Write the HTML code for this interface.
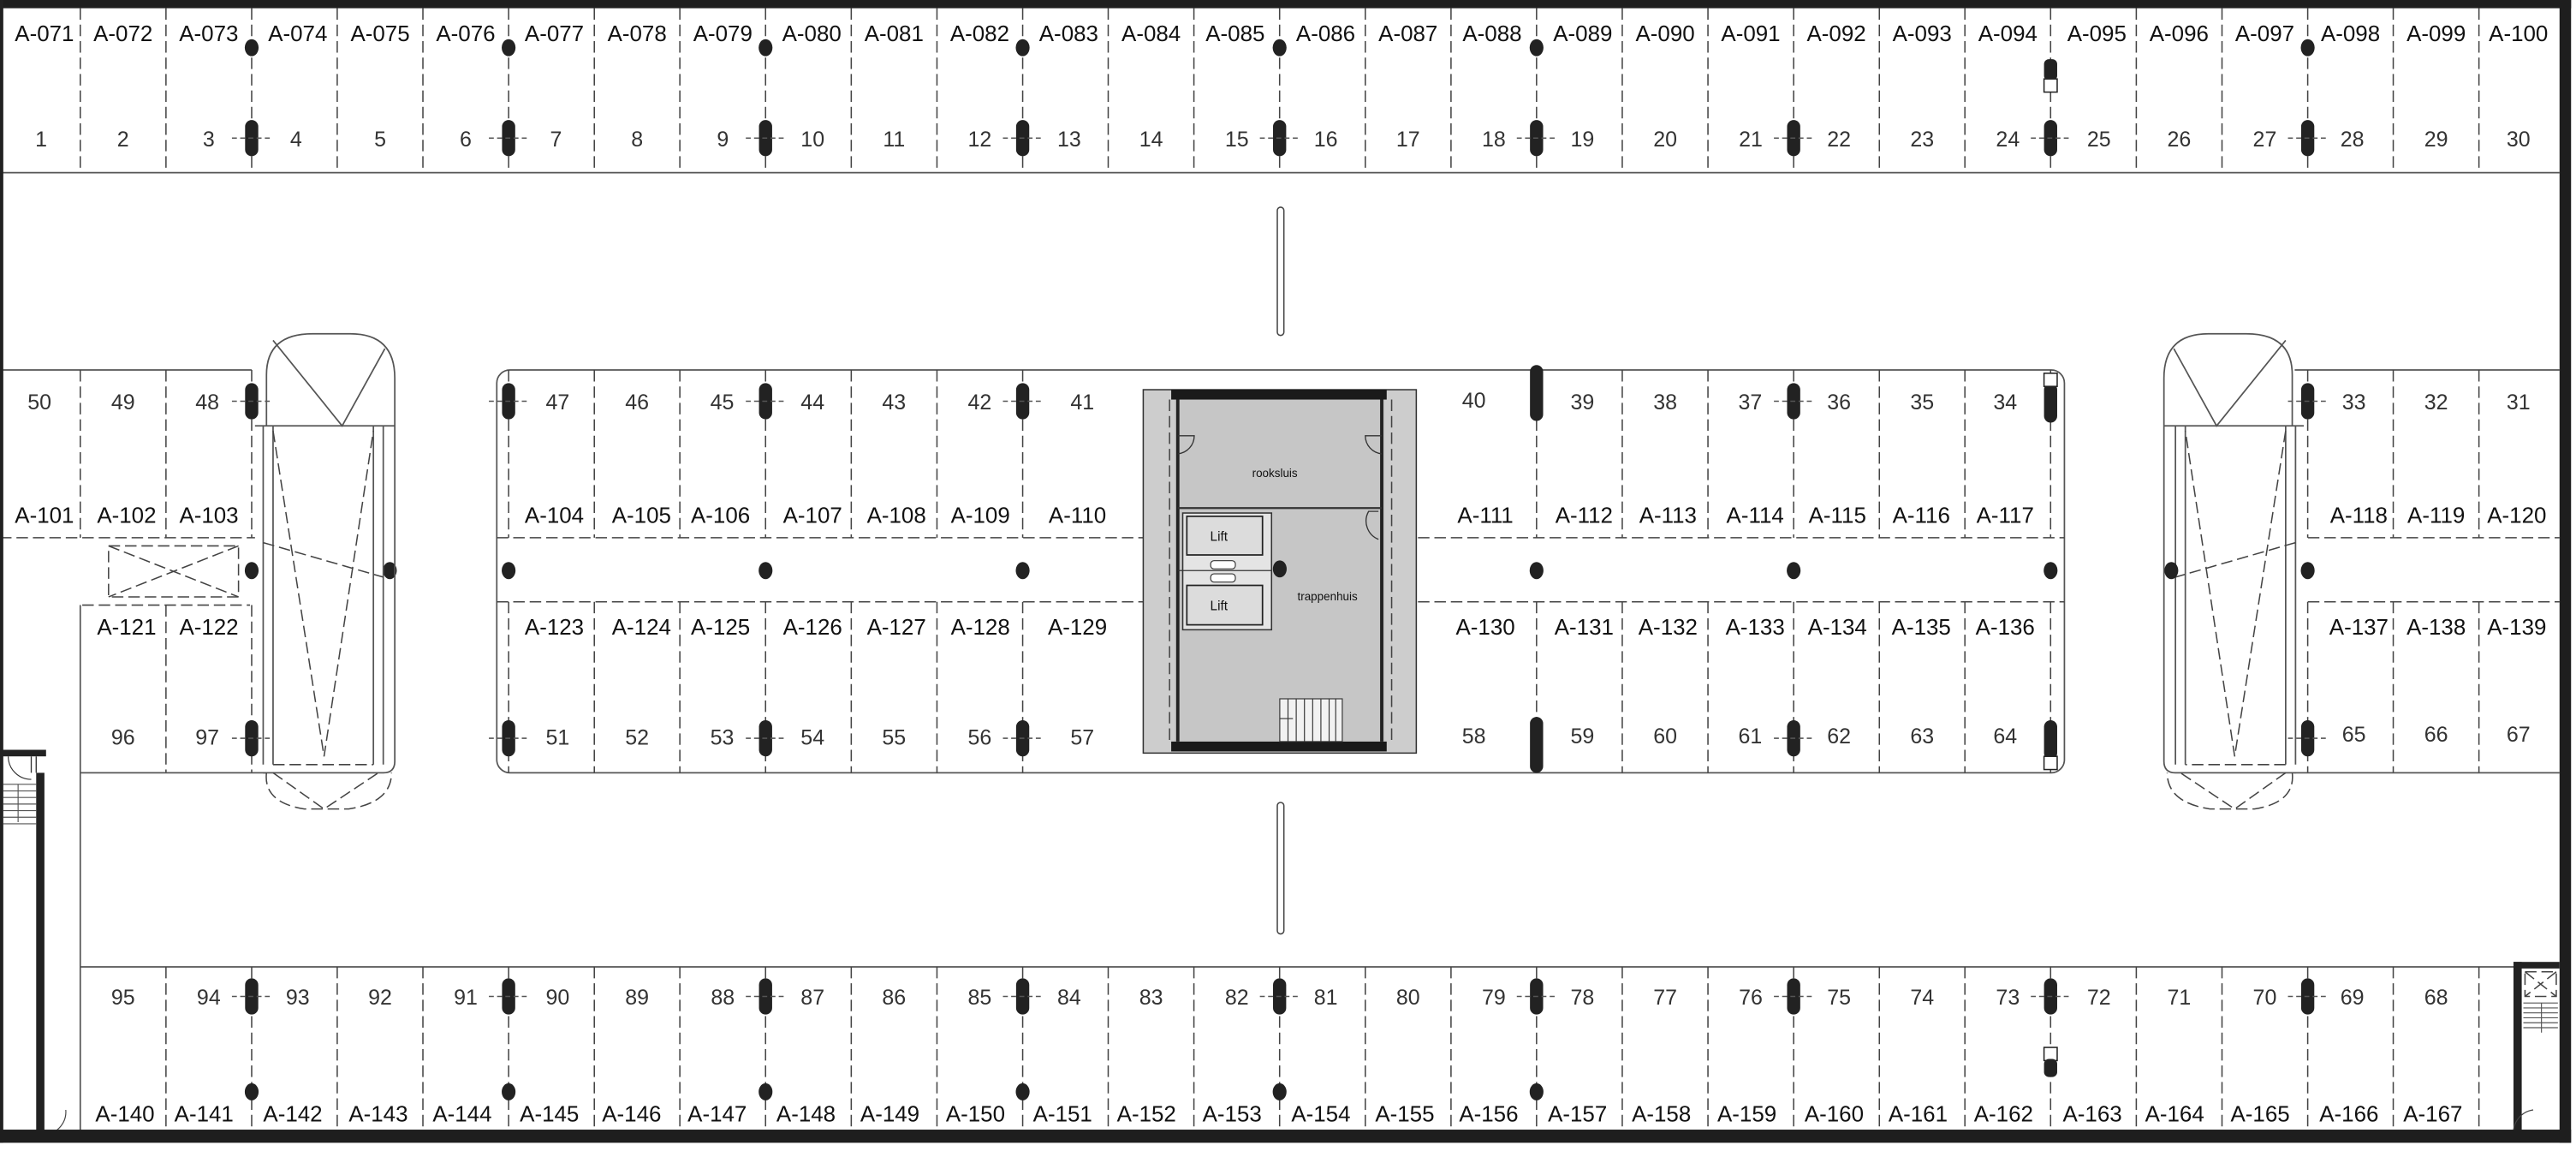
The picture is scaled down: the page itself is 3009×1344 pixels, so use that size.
<!DOCTYPE html>
<html><head><meta charset="utf-8"><style>
html,body{margin:0;padding:0;background:#fff}
svg{display:block}
.a{font-family:"Liberation Sans",sans-serif;font-size:13.5px;fill:#111;text-anchor:middle}
.n{font-family:"Liberation Sans",sans-serif;font-size:13px;fill:#333;text-anchor:middle}
.s{font-family:"Liberation Sans",sans-serif;font-size:7px;fill:#111;text-anchor:middle}
.dl{stroke:#444;stroke-width:0.8;stroke-dasharray:7 3;fill:none}
.ln{stroke:#555;stroke-width:0.9;fill:none}
</style></head><body>
<svg width="3009" height="1344" viewBox="0 0 1566 700" preserveAspectRatio="none" xmlns="http://www.w3.org/2000/svg">
<defs>
<g id="p"><rect x="-4" y="-11" width="8" height="22" rx="4" fill="#222"/><line x1="-12" y1="0" x2="12" y2="0" stroke="#555" stroke-width="0.8" stroke-dasharray="3 2"/></g>
<g id="d"><ellipse cx="0" cy="0" rx="4.2" ry="5.2" fill="#222"/></g>
</defs>
<rect x="0" y="0" width="1566" height="700" fill="#fff"/>

<!-- TOP ROW -->
<line x1="0" y1="105" x2="1556" y2="105" class="ln"/>
<g class="dl">
<path d="M48.8 5V105M100.9 5V105M153 5V105M205 5V105M257.1 5V105M309.2 5V105M361.3 5V105M413.3 5V105M465.4 5V105M517.5 5V105M569.6 5V105M621.7 5V105M673.7 5V105M725.8 5V105M777.9 5V105M830 5V105M882.1 5V105M934.1 5V105M986.2 5V105M1038.3 5V105M1090.4 5V105M1142.5 5V105M1194.5 5V105M1246.6 5V105M1298.7 5V105M1350.8 5V105M1402.9 5V105M1454.9 5V105M1507 5V105"/>
</g>
<g>
<use href="#d" x="153" y="29"/><use href="#d" x="309.2" y="29"/><use href="#d" x="465.4" y="29"/><use href="#d" x="621.7" y="29"/><use href="#d" x="777.9" y="29"/><use href="#d" x="934.1" y="29"/><use href="#d" x="1402.9" y="29"/>
<rect x="1242.6" y="36" width="8" height="13" rx="3" fill="#222"/><rect x="1242.6" y="48" width="8" height="8" fill="#fff" stroke="#222" stroke-width="0.8"/>
<use href="#p" x="153" y="84"/><use href="#p" x="309.2" y="84"/><use href="#p" x="465.4" y="84"/><use href="#p" x="621.7" y="84"/><use href="#p" x="777.9" y="84"/><use href="#p" x="934.1" y="84"/><use href="#p" x="1090.4" y="84"/><use href="#p" x="1246.6" y="84"/><use href="#p" x="1402.9" y="84"/>
</g>
<g class="a">
<text x="27" y="25">A-071</text><text x="74.8" y="25">A-072</text><text x="126.9" y="25">A-073</text><text x="181" y="25">A-074</text><text x="231.1" y="25">A-075</text><text x="283.1" y="25">A-076</text><text x="337" y="25">A-077</text><text x="387.3" y="25">A-078</text><text x="439.4" y="25">A-079</text><text x="493.5" y="25">A-080</text><text x="543.5" y="25">A-081</text><text x="595.6" y="25">A-082</text><text x="649.7" y="25">A-083</text><text x="699.8" y="25">A-084</text><text x="750.9" y="25">A-085</text><text x="805.9" y="25">A-086</text><text x="856" y="25">A-087</text><text x="907.1" y="25">A-088</text><text x="962.2" y="25">A-089</text><text x="1012.3" y="25">A-090</text><text x="1064.3" y="25">A-091</text><text x="1116.4" y="25">A-092</text><text x="1168.5" y="25">A-093</text><text x="1220.6" y="25">A-094</text><text x="1274.7" y="25">A-095</text><text x="1324.7" y="25">A-096</text><text x="1376.8" y="25">A-097</text><text x="1428.9" y="25">A-098</text><text x="1481" y="25">A-099</text><text x="1531" y="25">A-100</text>
</g>
<g class="n">
<text x="25" y="89">1</text><text x="74.8" y="89">2</text><text x="126.9" y="89">3</text><text x="180" y="89">4</text><text x="231.1" y="89">5</text><text x="283.1" y="89">6</text><text x="338" y="89">7</text><text x="387.3" y="89">8</text><text x="439.4" y="89">9</text><text x="494" y="89">10</text><text x="543.5" y="89">11</text><text x="595.6" y="89">12</text><text x="650" y="89">13</text><text x="699.8" y="89">14</text><text x="751.9" y="89">15</text><text x="806" y="89">16</text><text x="856" y="89">17</text><text x="908.1" y="89">18</text><text x="962" y="89">19</text><text x="1012.3" y="89">20</text><text x="1064.3" y="89">21</text><text x="1118" y="89">22</text><text x="1168.5" y="89">23</text><text x="1220.6" y="89">24</text><text x="1276" y="89">25</text><text x="1324.7" y="89">26</text><text x="1376.8" y="89">27</text><text x="1430" y="89">28</text><text x="1481" y="89">29</text><text x="1531" y="89">30</text>
</g>

<!-- CENTER BARS -->
<rect x="776.5" y="126" width="4" height="78" rx="2" fill="#fff" stroke="#444" stroke-width="0.8"/>
<rect x="776.5" y="488" width="4" height="80" rx="2" fill="#fff" stroke="#444" stroke-width="0.8"/>

<!-- LEFT BLOCK -->
<line x1="0" y1="225" x2="153" y2="225" class="ln"/>
<path class="dl" d="M48.8 225V327M100.9 225V327M153 225V327M0 327H155M100.9 368V470M153 368V470M50 368H152"/>
<rect x="66" y="332" width="79" height="31" class="dl"/>
<path class="dl" d="M66 332L145 363M145 332L66 363"/>
<line x1="48.8" y1="368" x2="48.8" y2="690" class="ln"/>
<line x1="48.8" y1="470" x2="162" y2="470" class="ln"/>
<use href="#p" x="153" y="244"/><use href="#d" x="153" y="347"/><use href="#p" x="153" y="449"/><use href="#d" x="237" y="347"/>
<g class="n"><text x="24" y="249">50</text><text x="74.8" y="249">49</text><text x="126" y="249">48</text><text x="74.8" y="453">96</text><text x="126" y="453">97</text></g>
<g class="a"><text x="27" y="318">A-101</text><text x="77" y="318">A-102</text><text x="127" y="318">A-103</text><text x="77" y="386">A-121</text><text x="127" y="386">A-122</text></g>

<!-- RAMP -->
<g id="ramp">
<path class="ln" d="M162 259V228Q162 203 190 203H213Q240 203 240 230V463Q240 470 233 470H160"/>
<line x1="155" y1="259" x2="240" y2="259" class="ln"/>
<path class="ln" d="M166 207L208 259L234 212"/>
<path class="ln" d="M160 259V465M166 259V465M227 259V465M233 259V465"/>
<path class="dl" d="M166 262L197 460L227 262M166 465H227M160 330L233 351"/>
<path class="dl" d="M162 470Q160 488 185 492H212Q238 488 238 470M166 470L197 492L230 470"/>
</g>
<use href="#ramp" transform="translate(1555.5,0) scale(-1,1)"/>

<!-- RIGHT BLOCK -->
<line x1="1395" y1="225" x2="1556" y2="225" class="ln"/>
<path class="dl" d="M1402.9 225V327M1454.9 225V327M1507 225V327M1403 327H1556M1403 366H1556M1402.9 366V470M1454.9 366V470M1507 366V470"/>
<line x1="1395" y1="470" x2="1556" y2="470" class="ln"/>
<use href="#p" x="1402.9" y="244"/><use href="#d" x="1402.9" y="347"/><use href="#p" x="1402.9" y="449"/><use href="#d" x="1320" y="347"/>
<g class="n"><text x="1431" y="249">33</text><text x="1481" y="249">32</text><text x="1531" y="249">31</text><text x="1431" y="451">65</text><text x="1481" y="451">66</text><text x="1531" y="451">67</text></g>
<g class="a"><text x="1434" y="318">A-118</text><text x="1481" y="318">A-119</text><text x="1530" y="318">A-120</text><text x="1434" y="386">A-137</text><text x="1481" y="386">A-138</text><text x="1530" y="386">A-139</text></g>

<!-- CENTER BLOCK -->
<rect x="302" y="225" width="953" height="245" rx="8" class="ln"/>
<path class="dl" d="M309.2 225V327M361.3 225V327M413.3 225V327M465.4 225V327M517.5 225V327M569.6 225V327M621.7 225V327M934.1 225V327M986.2 225V327M1038.3 225V327M1090.4 225V327M1142.5 225V327M1194.5 225V327M1246.6 225V327M309.2 366V470M361.3 366V470M413.3 366V470M465.4 366V470M517.5 366V470M569.6 366V470M621.7 366V470M934.1 366V470M986.2 366V470M1038.3 366V470M1090.4 366V470M1142.5 366V470M1194.5 366V470M1246.6 366V470M302 327H1255M302 366H1255"/>
<use href="#p" x="309.2" y="244"/><use href="#p" x="465.4" y="244"/><use href="#p" x="621.7" y="244"/><use href="#p" x="1090.4" y="244"/>
<rect x="930.1" y="222" width="8" height="34" rx="4" fill="#222"/>
<rect x="1242.6" y="233" width="8" height="24" rx="4" fill="#222"/><rect x="1242.6" y="227" width="8" height="8" fill="#fff" stroke="#222" stroke-width="0.8"/>
<use href="#d" x="309.2" y="347"/><use href="#d" x="465.4" y="347"/><use href="#d" x="621.7" y="347"/><use href="#d" x="934.1" y="347"/><use href="#d" x="1090.4" y="347"/><use href="#d" x="1246.6" y="347"/>
<use href="#p" x="309.2" y="449"/><use href="#p" x="465.4" y="449"/><use href="#p" x="621.7" y="449"/><use href="#p" x="1090.4" y="449"/>
<rect x="930.1" y="436" width="8" height="34" rx="4" fill="#222"/>
<rect x="1242.6" y="438" width="8" height="24" rx="4" fill="#222"/><rect x="1242.6" y="460" width="8" height="8" fill="#fff" stroke="#222" stroke-width="0.8"/>
<g class="n">
<text x="339" y="249">47</text><text x="387.3" y="249">46</text><text x="439" y="249">45</text><text x="494" y="249">44</text><text x="543.5" y="249">43</text><text x="595.6" y="249">42</text><text x="658" y="249">41</text>
<text x="896" y="248">40</text><text x="962" y="249">39</text><text x="1012.3" y="249">38</text><text x="1064" y="249">37</text><text x="1118" y="249">36</text><text x="1168.5" y="249">35</text><text x="1219" y="249">34</text>
<text x="339" y="453">51</text><text x="387.3" y="453">52</text><text x="439" y="453">53</text><text x="494" y="453">54</text><text x="543.5" y="453">55</text><text x="595.6" y="453">56</text><text x="658" y="453">57</text>
<text x="896" y="452">58</text><text x="962" y="452">59</text><text x="1012.3" y="452">60</text><text x="1064" y="452">61</text><text x="1118" y="452">62</text><text x="1168.5" y="452">63</text><text x="1219" y="452">64</text>
</g>
<g class="a">
<text x="337" y="318">A-104</text><text x="390" y="318">A-105</text><text x="438" y="318">A-106</text><text x="494" y="318">A-107</text><text x="545" y="318">A-108</text><text x="596" y="318">A-109</text><text x="655" y="318">A-110</text>
<text x="903" y="318">A-111</text><text x="963" y="318">A-112</text><text x="1014" y="318">A-113</text><text x="1067" y="318">A-114</text><text x="1117" y="318">A-115</text><text x="1168" y="318">A-116</text><text x="1219" y="318">A-117</text>
<text x="337" y="386">A-123</text><text x="390" y="386">A-124</text><text x="438" y="386">A-125</text><text x="494" y="386">A-126</text><text x="545" y="386">A-127</text><text x="596" y="386">A-128</text><text x="655" y="386">A-129</text>
<text x="903" y="386">A-130</text><text x="963" y="386">A-131</text><text x="1014" y="386">A-132</text><text x="1067" y="386">A-133</text><text x="1117" y="386">A-134</text><text x="1168" y="386">A-135</text><text x="1219" y="386">A-136</text>
</g>

<!-- CORE -->
<rect x="695" y="237" width="166" height="221" fill="#cdcdcd" stroke="#333" stroke-width="0.8"/>
<rect x="714" y="243" width="128" height="208" fill="#c6c6c6"/>
<rect x="712" y="237" width="131" height="6" fill="#1a1a1a"/>
<rect x="712" y="451" width="131" height="6" fill="#1a1a1a"/>
<path d="M716 243V451M840 243V451" stroke="#222" stroke-width="2"/>
<path class="dl" d="M711 243V451M846 243V451"/>
<path d="M716 309H840" stroke="#333" stroke-width="1.2"/>
<path d="M716 265H726A11 11 0 0 1 716 276M840 265H830A11 11 0 0 0 840 276M838 311H832A12 12 0 0 0 838 328" stroke="#333" stroke-width="0.7" fill="none"/>
<rect x="719" y="312" width="54" height="71" fill="#e4e4e4" stroke="#333" stroke-width="0.8"/>
<rect x="721.5" y="314" width="46" height="23.5" fill="#dcdcdc" stroke="#222" stroke-width="0.9"/>
<rect x="721.5" y="356" width="46" height="24" fill="#dcdcdc" stroke="#222" stroke-width="0.9"/>
<rect x="736" y="341" width="15" height="5" rx="2" fill="#fff" stroke="#333" stroke-width="0.6"/>
<rect x="736" y="349" width="15" height="5" rx="2" fill="#fff" stroke="#333" stroke-width="0.6"/>
<line x1="716" y1="347" x2="773" y2="347" stroke="#333" stroke-width="0.6"/>
<use href="#d" x="778" y="346"/>
<text class="s" x="741" y="329" style="font-size:8px">Lift</text>
<text class="s" x="741" y="371" style="font-size:8px">Lift</text>
<text class="s" x="775" y="290">rooksluis</text>
<text class="s" x="807" y="365">trappenhuis</text>
<rect x="778" y="425" width="38" height="26" fill="#f2f2f2" stroke="#333" stroke-width="0.6"/>
<path d="M783 425V451M788 425V451M793 425V451M798 425V451M803 425V451M808 425V451M812 425V451M778 437H786" stroke="#333" stroke-width="0.6"/>

<!-- BOTTOM ROW -->
<line x1="48.8" y1="588" x2="1530" y2="588" class="ln"/>
<path class="dl" d="M100.9 588V690M153 588V690M205 588V690M257.1 588V690M309.2 588V690M361.3 588V690M413.3 588V690M465.4 588V690M517.5 588V690M569.6 588V690M621.7 588V690M673.7 588V690M725.8 588V690M777.9 588V690M830 588V690M882.1 588V690M934.1 588V690M986.2 588V690M1038.3 588V690M1090.4 588V690M1142.5 588V690M1194.5 588V690M1246.6 588V690M1298.7 588V690M1350.8 588V690M1402.9 588V690M1454.9 588V690M1507 588V690"/>
<use href="#p" x="153" y="606"/><use href="#p" x="309.2" y="606"/><use href="#p" x="465.4" y="606"/><use href="#p" x="621.7" y="606"/><use href="#p" x="777.9" y="606"/><use href="#p" x="934.1" y="606"/><use href="#p" x="1090.4" y="606"/><use href="#p" x="1246.6" y="606"/><use href="#p" x="1402.9" y="606"/>
<use href="#d" x="153" y="664"/><use href="#d" x="309.2" y="664"/><use href="#d" x="465.4" y="664"/><use href="#d" x="621.7" y="664"/><use href="#d" x="777.9" y="664"/><use href="#d" x="934.1" y="664"/>
<rect x="1242.6" y="637" width="8" height="8" fill="#fff" stroke="#222" stroke-width="0.8"/><rect x="1242.6" y="644" width="8" height="11" rx="3" fill="#222"/>
<g class="n">
<text x="74.8" y="611">95</text><text x="126.9" y="611">94</text><text x="181" y="611">93</text><text x="231.1" y="611">92</text><text x="283.1" y="611">91</text><text x="339" y="611">90</text><text x="387.3" y="611">89</text><text x="439.4" y="611">88</text><text x="494" y="611">87</text><text x="543.5" y="611">86</text><text x="595.6" y="611">85</text><text x="650" y="611">84</text><text x="699.8" y="611">83</text><text x="751.9" y="611">82</text><text x="806" y="611">81</text><text x="856" y="611">80</text><text x="908.1" y="611">79</text><text x="962" y="611">78</text><text x="1012.3" y="611">77</text><text x="1064.3" y="611">76</text><text x="1118" y="611">75</text><text x="1168.5" y="611">74</text><text x="1220.6" y="611">73</text><text x="1276" y="611">72</text><text x="1324.7" y="611">71</text><text x="1376.8" y="611">70</text><text x="1430" y="611">69</text><text x="1481" y="611">68</text>
</g>
<g class="a">
<text x="76" y="682">A-140</text><text x="124" y="682">A-141</text><text x="178" y="682">A-142</text><text x="230" y="682">A-143</text><text x="281" y="682">A-144</text><text x="334" y="682">A-145</text><text x="384" y="682">A-146</text><text x="436" y="682">A-147</text><text x="490" y="682">A-148</text><text x="541" y="682">A-149</text><text x="593" y="682">A-150</text><text x="646" y="682">A-151</text><text x="697" y="682">A-152</text><text x="749" y="682">A-153</text><text x="803" y="682">A-154</text><text x="854" y="682">A-155</text><text x="905" y="682">A-156</text><text x="959" y="682">A-157</text><text x="1010" y="682">A-158</text><text x="1062" y="682">A-159</text><text x="1115" y="682">A-160</text><text x="1166" y="682">A-161</text><text x="1218" y="682">A-162</text><text x="1272" y="682">A-163</text><text x="1322" y="682">A-164</text><text x="1374" y="682">A-165</text><text x="1428" y="682">A-166</text><text x="1479" y="682">A-167</text>
</g>

<!-- LEFT STAIR -->
<rect x="0" y="456" width="28" height="4" fill="#222"/>
<rect x="22" y="470" width="5" height="220" fill="#222"/>
<path d="M19 460V470M22 460V470" stroke="#333" stroke-width="0.7"/>
<path d="M5 460A14 14 0 0 0 19 474" stroke="#333" stroke-width="0.6" fill="none"/>
<path d="M2 477H22M2 481H22M2 485H22M2 489H22M2 493H22M2 497H22M2 501H22M11 477V500" stroke="#555" stroke-width="0.6"/>
<path d="M28 690A14 14 0 0 0 40 675" stroke="#444" stroke-width="0.6" fill="none"/>

<!-- RIGHT STAIR -->
<rect x="1528" y="585" width="28" height="4" fill="#222"/>
<rect x="1528" y="585" width="5" height="105" fill="#222"/>
<rect x="1535" y="591" width="19" height="15" fill="none" class="dl"/>
<path class="dl" d="M1535 591L1554 606M1554 591L1535 606"/>
<path d="M1534 610H1555M1534 613H1555M1534 616H1555M1534 619H1555M1534 622H1555M1534 625H1555M1545 610V628" stroke="#555" stroke-width="0.6"/>
<path d="M1528 690A14 14 0 0 1 1540 675" stroke="#444" stroke-width="0.6" fill="none"/>

<!-- OUTER BORDERS -->
<rect x="0" y="0" width="1563" height="5" fill="#1e1e1e"/>
<rect x="0" y="0" width="2" height="695" fill="#222"/>
<rect x="1556" y="0" width="7" height="695" fill="#1e1e1e"/>
<rect x="0" y="687" width="1563" height="8" fill="#1e1e1e"/>
</svg>
</body></html>
